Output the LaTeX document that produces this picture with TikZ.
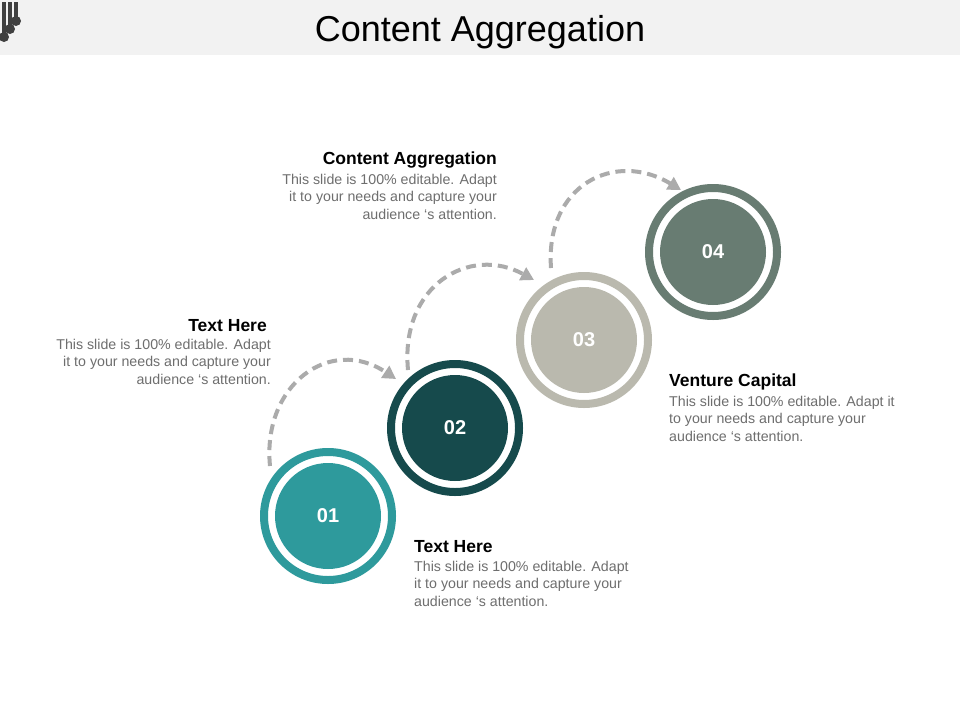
\documentclass[tikz,border=0pt]{standalone}
\usepackage{fontspec}
\setmainfont{Liberation Sans}
\usetikzlibrary{arrows.meta}
\definecolor{c1}{HTML}{2E9A9C}
\definecolor{c2}{HTML}{164A4C}
\definecolor{c3}{HTML}{BAB9AE}
\definecolor{c4}{HTML}{687C72}
\definecolor{arcgray}{HTML}{ABABAB}
\definecolor{txtgray}{HTML}{6E6E6E}
\tikzset{
  ring/.style={circle,draw=#1,line width=8pt,minimum size=128pt,inner sep=0pt},
  core/.style={circle,fill=#1,minimum size=106pt,inner sep=0pt,text=white,font=\bfseries\fontsize{20}{22}\selectfont},
  arcline/.style={draw=arcgray,line width=4pt,dash pattern=on 10pt off 6pt,-{Triangle[length=13pt,width=14pt]}},
  head/.style={font=\bfseries\fontsize{17.5}{19}\selectfont,inner sep=0pt},
  body/.style={font=\fontsize{14.2}{17.4}\selectfont,text=txtgray,inner sep=0pt},
  bar/.style={line width=4pt,draw=black!75}
}
\begin{document}
\begin{tikzpicture}[x=1pt,y=-1pt]
\useasboundingbox (0,0) rectangle (960,720);
\fill[white] (0,0) rectangle (960,720);
\fill[black!5] (0,0) rectangle (960,55);
\node[font=\fontsize{36}{40}\selectfont,inner sep=0pt] (title) at (480,32) {Content Aggregation};
% icon
\draw[bar] (4,2) -- (4,34) (10,2) -- (10,26) (16,2) -- (16,18);
\fill[black!75] (4,37) circle (5) (10,29) circle (5) (16,21) circle (5);
% circles
\foreach \n/\x/\y/\c in {1/328/516/c1,2/455/428/c2,3/584/340/c3,4/713/252/c4}{
  \node[ring=\c] (r\n) at (\x,\y) {};
  \node[core=\c] (k\n) at (\x,\y) {0\n};
}
% arcs
\coordinate (a1s) at (270,466); \coordinate (a1e) at (396,379);
\coordinate (a2s) at (408,370); \coordinate (a2e) at (534,280);
\coordinate (a3s) at (551,268); \coordinate (a3e) at (681,190);
\draw[arcline] (a1s) .. controls (262,385) and (330,335) .. (a1e);
\draw[arcline] (a2s) .. controls (400,285) and (470,245) .. (a2e);
\draw[arcline] (a3s) .. controls (545,185) and (615,150) .. (a3e);
% texts
\node[head,anchor=east] (h1) at (497,160) {Content Aggregation};
\node[body,anchor=north east,align=right] (b1) at (497,174) {This slide is 100\% editable. Adapt\\it to your needs and capture your\\audience ‘s attention.};
\node[head,anchor=east] (h2) at (267,326) {Text Here};
\node[body,anchor=north east,align=right] (b2) at (271,339) {This slide is 100\% editable. Adapt\\it to your needs and capture your\\audience ‘s attention.};
\node[head,anchor=west] (h3) at (669,382) {Venture Capital};
\node[body,anchor=north west,align=left] (b3) at (669,396) {This slide is 100\% editable. Adapt it\\to your needs and capture your\\audience ‘s attention.};
\node[head,anchor=west] (h4) at (414,547) {Text Here};
\node[body,anchor=north west,align=left] (b4) at (414,561) {This slide is 100\% editable. Adapt\\it to your needs and capture your\\audience ‘s attention.};
\end{tikzpicture}
\end{document}
